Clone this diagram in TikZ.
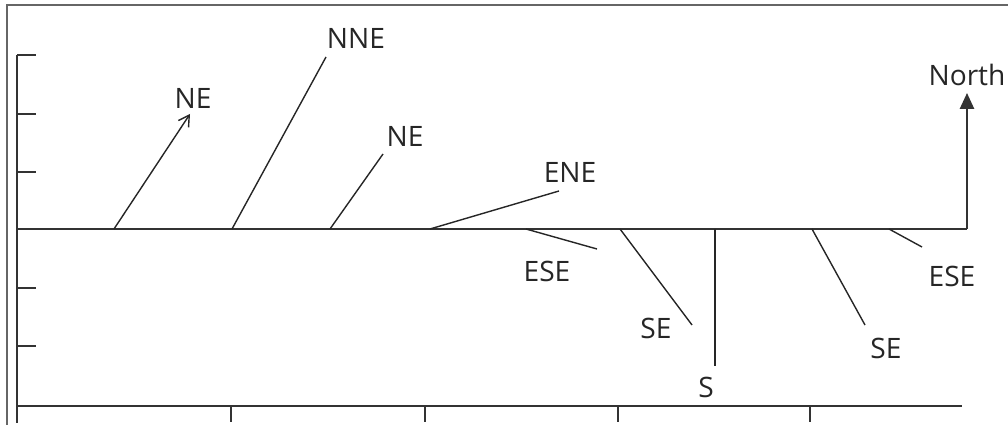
\documentclass[tikz,border=0pt]{standalone}
\usepackage{fontspec}
\setmainfont{Open Sans}
\usetikzlibrary{arrows.meta}

\begin{document}
\begin{tikzpicture}[x=0.02cm,y=-0.02cm,
	every node/.style={font=\fontsize{16}{18}\selectfont,text=black!85,inner sep=0pt},
	axis/.style={line width=1.1pt,draw=black!80},
	vec/.style={line width=0.8pt,draw=black!85}]

	\useasboundingbox (0,0) rectangle (1008,425);

	% frame
	\draw[line width=0.8pt,black!60] (7,425) -- (7,5) -- (1008,5);

	% axes with ticks
	\draw[axis] (17,55) -- (17,423);
	\draw[axis] (17,406) -- (962,406);
	\foreach \ty in {55,114,172,288,346}
		\draw[axis] (17,\ty) -- (36,\ty);
	\foreach \tx in {231,425,618,810}
		\draw[axis] (\tx,406) -- (\tx,422);

	% base line and north arrow
	\coordinate (base) at (17,229);
	\coordinate (corner) at (967,229);
	\coordinate (tip) at (967,93);
	\draw[axis] (base) -- (corner);
	\draw[axis,-{Triangle[length=9pt,width=8pt]}] (corner) -- (tip);
	\node (north) at (967,75) {North};

	% wind vectors
	\coordinate (a1) at (114,229); \coordinate (b1) at (190,114);
	\coordinate (a2) at (232,229); \coordinate (b2) at (326,57);
	\coordinate (a3) at (330,229); \coordinate (b3) at (383,154);
	\coordinate (a4) at (430,229); \coordinate (b4) at (559,191);
	\coordinate (a5) at (526,229); \coordinate (b5) at (597,249);
	\coordinate (a6) at (620,229); \coordinate (b6) at (692,325);
	\coordinate (a7) at (715,229); \coordinate (b7) at (715,366);
	\coordinate (a8) at (812,229); \coordinate (b8) at (865,325);
	\coordinate (a9) at (889,229); \coordinate (b9) at (922,247);

	\draw[vec,-{Straight Barb[length=6pt,width=7pt]}] (a1) -- (b1);
	\foreach \i in {2,...,9}
		\draw[vec] (a\i) -- (b\i);

	% labels
	\node (l1) at (193,98) {NE};
	\node (l2) at (356,38) {NNE};
	\node (l3) at (405,136) {NE};
	\node (l4) at (570,172) {ENE};
	\node (l5) at (547,271) {ESE};
	\node (l6) at (656,328) {SE};
	\node (l7) at (706,387) {S};
	\node (l8) at (886,348) {SE};
	\node (l9) at (952,276) {ESE};
\end{tikzpicture}
\end{document}
